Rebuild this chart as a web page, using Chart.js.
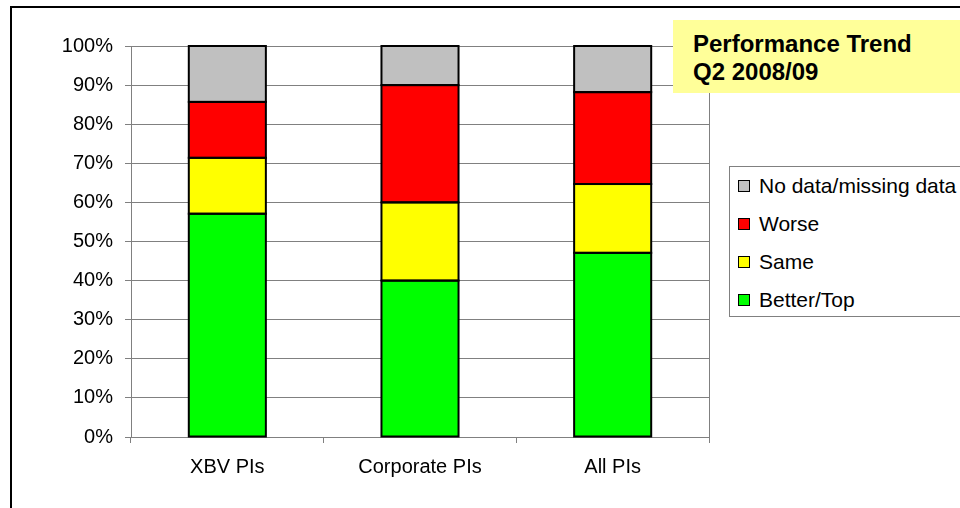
<!DOCTYPE html>
<html>
<head>
<meta charset="utf-8">
<script src="https://cdn.jsdelivr.net/npm/chart.js@4"></script>
<style>
  html, body { margin: 0; padding: 0; background: #fff; overflow: hidden; }
  #wrap { position: relative; width: 960px; height: 508px; }
  #frame { position: absolute; left: 10px; top: 6px; width: 1000px; height: 600px; border: 2px solid #000; box-sizing: border-box; }
  #chart { position: absolute; left: 0; top: 0; }
  #title { position: absolute; left: 673px; top: 20px; width: 300px; height: 73px; background: #FFFF99;
           font: bold 24px "Liberation Sans", Arial, sans-serif; line-height: 28px; padding: 10px 0 0 20px; box-sizing: border-box; color: #000; }
  #legend { position: absolute; left: 729px; top: 166px; width: 300px; height: 151px; border: 1px solid #808080;
            background: #fff; box-sizing: border-box; font: 21px "Liberation Sans", Arial, sans-serif; color: #000; }
  .item { position: absolute; left: 8px; height: 24px; line-height: 24px; }
  .item span.box { position: absolute; left: 0; top: 6px; width: 10px; height: 10px; border: 1px solid #000; }
  .item span.txt { position: absolute; left: 21px; top: 0; white-space: nowrap; }
</style>
</head>
<body>
<div id="wrap">
  <div id="frame"></div>
  <canvas id="chart" width="960" height="508"></canvas>
  <div id="title">Performance Trend<br>Q2 2008/09</div>
  <div id="legend"></div>
</div>
<script>
'use strict';

var categories = ['XBV PIs', 'Corporate PIs', 'All PIs'];
var seriesNames = ['Better/Top', 'Same', 'Worse', 'No data/missing data'];
var seriesColors = ['#00FF00', '#FFFF00', '#FF0000', '#C0C0C0'];
var betterTop = [57.1, 40.0, 47.1];
var same = [14.3, 20.0, 17.6];
var worse = [14.3, 30.0, 23.5];
var noData = [14.3, 10.0, 11.8];
var yTicks = [0, 10, 20, 30, 40, 50, 60, 70, 80, 90, 100];

var seriesValues = [betterTop, same, worse, noData];
var font = { family: '"Liberation Sans", Arial, sans-serif', size: 20 };

var datasets = [];
for (var i = 0; i < seriesNames.length; i++) {
  datasets.push({
    label: seriesNames[i],
    data: seriesValues[i],
    backgroundColor: seriesColors[i],
    borderWidth: 0,
    categoryPercentage: 1,
    barPercentage: 0.4
  });
}

// legend box, listed top series first
var legend = document.getElementById('legend');
for (var j = seriesNames.length - 1; j >= 0; j--) {
  var row = document.createElement('div');
  row.className = 'item';
  row.style.top = (7 + (seriesNames.length - 1 - j) * 38) + 'px';
  row.innerHTML = '<span class="box" style="background:' + seriesColors[j] + '"></span><span class="txt"></span>';
  row.querySelector('.txt').textContent = seriesNames[j];
  legend.appendChild(row);
}

// black outline centred on each segment edge, like the Excel bars
var barOutline = {
  id: 'barOutline',
  afterDatasetsDraw: function (chart) {
    var c = chart.ctx;
    c.save();
    c.strokeStyle = '#000';
    c.lineWidth = 2;
    chart.data.datasets.forEach(function (ds, di) {
      chart.getDatasetMeta(di).data.forEach(function (bar) {
        var p = bar.getProps(['x', 'y', 'base', 'width'], true);
        c.strokeRect(p.x - p.width / 2, p.y, p.width, p.base - p.y);
      });
    });
    c.restore();
  }
};

var ctx = document.getElementById('chart').getContext('2d');

var chart = new Chart(ctx, {
  type: 'bar',
  data: {
    labels: categories,
    datasets: datasets
  },
  plugins: [barOutline],
  options: {
    responsive: false,
    animation: false,
    layout: { padding: { left: 12, top: 46, right: 251, bottom: 0 } },
    plugins: {
      legend: { display: false },
      tooltip: { enabled: false }
    },
    scales: {
      x: {
        stacked: true,
        grid: { offset: true, drawOnChartArea: false, drawTicks: true, tickLength: 6, color: '#808080' },
        border: { color: '#808080', width: 1 },
        ticks: { color: '#000', font: font, padding: 12 },
        afterFit: function (s) { s.height = 71; }
      },
      y: {
        stacked: true,
        min: 0,
        max: 100,
        afterBuildTicks: function (s) { s.ticks = yTicks.map(function (v) { return { value: v }; }); },
        grid: { color: '#808080', tickLength: 6 },
        border: { color: '#808080', width: 1 },
        ticks: { color: '#000', font: font, padding: 12, callback: function (v) { return v + '%'; } },
        afterFit: function (s) { s.width = 119; }
      },
      y2: {
        position: 'right',
        grid: { drawOnChartArea: false, drawTicks: false },
        border: { color: '#808080', width: 1 },
        ticks: { display: false },
        afterFit: function (s) { s.width = 0; }
      }
    }
  }
});
</script>
</body>
</html>
